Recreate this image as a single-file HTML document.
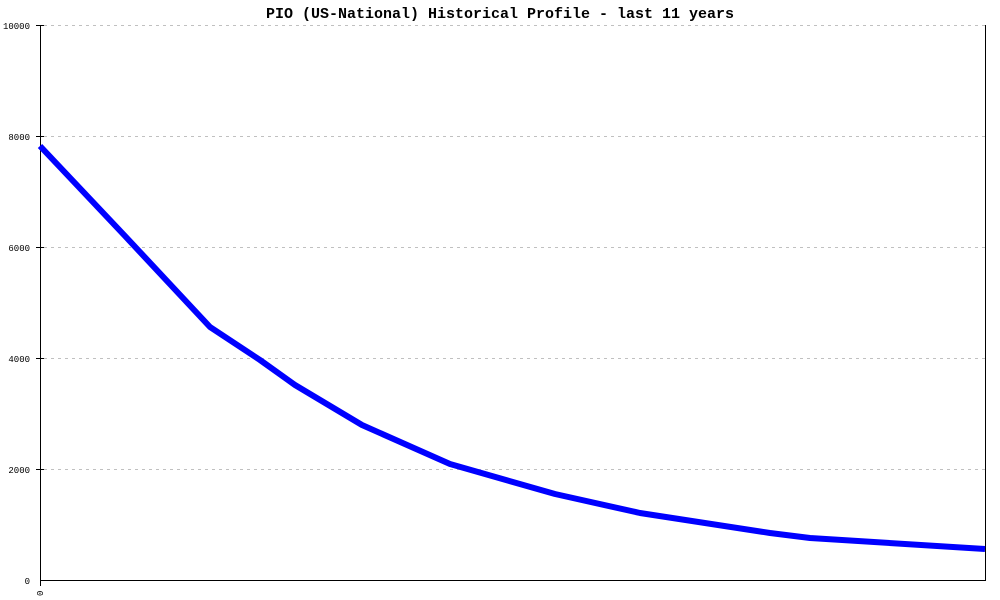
<!DOCTYPE html>
<html><head><style>body{margin:0;background:#fff}</style></head><body>
<svg width="1000" height="600" xmlns="http://www.w3.org/2000/svg" style="display:block">
<rect width="1000" height="600" fill="#fff"/>
<text x="500" y="18" text-anchor="middle" font-family="Liberation Mono, monospace" font-size="15" font-weight="bold">PIO (US-National) Historical Profile - last 11 years</text>
<g stroke="#c0c0c0" stroke-dasharray="3,4" stroke-width="1">
<line x1="44" y1="25.5" x2="985" y2="25.5"/>
<line x1="44" y1="136.5" x2="985" y2="136.5"/>
<line x1="44" y1="247.5" x2="985" y2="247.5"/>
<line x1="44" y1="358.5" x2="985" y2="358.5"/>
<line x1="44" y1="469.5" x2="985" y2="469.5"/>
</g>
<g stroke="#000" stroke-width="1">
<line x1="40.5" y1="25" x2="40.5" y2="586"/>
<line x1="40" y1="580.5" x2="986" y2="580.5"/>
<line x1="985.5" y1="25" x2="985.5" y2="581"/>
<line x1="36" y1="25.5" x2="44" y2="25.5"/>
<line x1="36" y1="136.5" x2="44" y2="136.5"/>
<line x1="36" y1="247.5" x2="44" y2="247.5"/>
<line x1="36" y1="358.5" x2="44" y2="358.5"/>
<line x1="36" y1="469.5" x2="44" y2="469.5"/>
</g>
<g font-family="Liberation Mono, monospace" font-size="9" text-anchor="end">
<text x="30" y="29">10000</text>
<text x="30" y="140">8000</text>
<text x="30" y="251">6000</text>
<text x="30" y="362">4000</text>
<text x="30" y="473">2000</text>
<text x="30" y="584">0</text>
</g>
<text font-family="Liberation Mono, monospace" font-size="9" transform="translate(43,596) rotate(-90)">0</text>
<polyline fill="none" stroke="#0000ff" stroke-width="6" stroke-linejoin="round" points="40,146 125,236 210,327 260,360 295,385 362,425 450,464 555,494 640,513 770,533 810,538 985,549"/>
</svg>
</body></html>
